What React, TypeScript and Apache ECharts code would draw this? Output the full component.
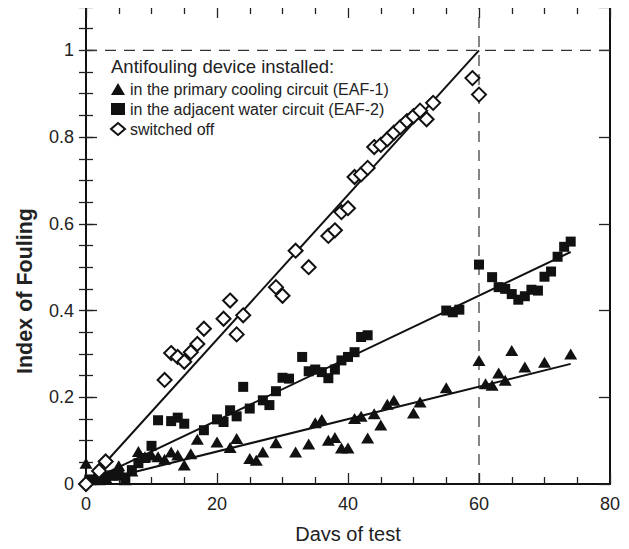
import React, { useEffect, useRef } from "react";
import * as echarts from "echarts";

// EAF-1: antifouling device in the primary cooling circuit (triangles)
const eaf1: [number, number][] = [
  [0, 0.048], [2, 0.01], [3, 0.015], [4, 0.02], [5, 0.042], [6, 0.01], [7, 0.03],
  [8, 0.075], [9, 0.063], [10, 0.067], [11, 0.063], [12, 0.057], [13, 0.074],
  [14, 0.067], [15, 0.044], [16, 0.07], [17, 0.103], [20, 0.097], [22, 0.084],
  [23, 0.105], [25, 0.059], [26, 0.055], [27, 0.074], [29, 0.095], [32, 0.074],
  [34, 0.092], [35, 0.141], [36, 0.149], [37, 0.101], [38, 0.107], [39, 0.083],
  [40, 0.083], [41, 0.151], [42, 0.156], [43, 0.106], [44, 0.162], [45, 0.136],
  [46, 0.184], [47, 0.193], [50, 0.164], [51, 0.189], [55, 0.222], [60, 0.285],
  [61, 0.231], [62, 0.228], [63, 0.256], [64, 0.239], [65, 0.308], [67, 0.27],
  [70, 0.281], [74, 0.3],
];

// EAF-2: antifouling device in the adjacent water circuit (squares)
const eaf2: [number, number][] = [
  [0.5, 0.01], [1, 0.01], [2, 0.01], [3, 0.015], [4, 0.02], [5, 0.02], [6, 0.015],
  [7, 0.032], [8, 0.048], [9, 0.06], [10, 0.088], [11, 0.147], [13, 0.145],
  [14, 0.153], [15, 0.139], [18, 0.124], [20, 0.149], [21, 0.143], [22, 0.17],
  [23, 0.156], [24, 0.224], [25, 0.174], [27, 0.193], [28, 0.182], [29, 0.214],
  [30, 0.245], [31, 0.243], [33, 0.293], [34, 0.26], [35, 0.264], [36, 0.258],
  [37, 0.244], [38, 0.264], [39, 0.285], [40, 0.293], [41, 0.304], [42, 0.339],
  [43, 0.343], [55, 0.4], [56, 0.396], [57, 0.402], [60, 0.506], [62, 0.477],
  [63, 0.454], [64, 0.45], [65, 0.438], [66, 0.425], [67, 0.433], [68, 0.448],
  [69, 0.446], [70, 0.478], [71, 0.49], [72, 0.524], [73, 0.547], [74, 0.559],
];

// Device switched off (open diamonds)
const switchedOff: [number, number][] = [
  [0, 0], [2, 0.03], [3, 0.052], [12, 0.24], [13, 0.302], [14, 0.293], [15, 0.282],
  [16, 0.304], [17, 0.323], [18, 0.358], [21, 0.381], [22, 0.423], [23, 0.345],
  [24, 0.389], [29, 0.454], [30, 0.434], [32, 0.538], [34, 0.5], [37, 0.572],
  [38, 0.585], [39, 0.627], [40, 0.636], [41, 0.708], [42, 0.714], [43, 0.729],
  [44, 0.777], [45, 0.782], [46, 0.795], [47, 0.81], [48, 0.823], [49, 0.837],
  [50, 0.848], [51, 0.861], [52, 0.841], [53, 0.879], [59, 0.936], [60, 0.898],
];

// Linear trend lines (end points)
const fitEaf1: [number, number][] = [[0, 0], [74, 0.277]];
const fitEaf2: [number, number][] = [[0, 0.003], [74, 0.535]];
const fitOff: [number, number][] = [[0, 0], [60, 1]];

// Reference dashed lines
const refHorizontal: [number, number][] = [[0, 1], [80, 1]];
const refVertical: [number, number][] = [[60, 0], [60, 1.1]];

const seriesNames = [
  "in the primary cooling circuit (EAF-1)",
  "in the adjacent water circuit (EAF-2)",
  "switched off",
];
const legendTitle = "Antifouling device installed:";
const xTitle = "Days of test";
const yTitle = "Index of Fouling";

const FONT = "'Liberation Sans', Arial, Helvetica, sans-serif";
const INK = "#111";

export default function App() {
  const ref = useRef<HTMLDivElement>(null);

  useEffect(() => {
    if (!ref.current) return;
    const chart = echarts.init(ref.current, undefined, { renderer: "svg" });

    const tickStyle = { color: "#222", width: 1.3 };
    const axisCommon = {
      axisLine: { show: true, onZero: false, lineStyle: { color: INK, width: 2 } },
      splitLine: { show: false },
      axisTick: { show: true, inside: true, length: 11, lineStyle: tickStyle },
    };
    const xMinor = { minorTick: { show: true, splitNumber: 4, length: 7, lineStyle: tickStyle } };
    const yFineTicks = (position: string) => ({
      type: "value",
      position,
      min: 0,
      max: 1.1,
      interval: 0.05,
      axisLine: { show: false },
      splitLine: { show: false },
      axisLabel: { show: false },
      axisTick: { show: true, inside: true, length: 7, lineStyle: tickStyle },
    });

    const line = (data: [number, number][], dashed = false) => ({
      type: "line",
      data,
      symbol: "none",
      silent: true,
      z: 1,
      lineStyle: dashed
        ? { color: "#333", width: 1.2, type: [11, 8] }
        : { color: INK, width: 2 },
    });

    chart.setOption({
      animation: false,
      grid: { left: 86, right: 19, top: 7, bottom: 65, containLabel: false },
      textStyle: { fontFamily: FONT },
      xAxis: [
        {
          type: "value",
          min: 0,
          max: 80,
          interval: 20,
          ...axisCommon,
          ...xMinor,
          axisLabel: { color: "#222", fontSize: 18, margin: 11, fontFamily: FONT },
        },
        {
          type: "value",
          position: "top",
          min: 0,
          max: 80,
          interval: 20,
          ...axisCommon,
          ...xMinor,
          axisLabel: { show: false },
        },
      ],
      yAxis: [
        {
          type: "value",
          min: 0,
          max: 1.1,
          interval: 0.2,
          ...axisCommon,
          axisLabel: {
            color: "#222",
            fontSize: 18,
            margin: 12,
            fontFamily: FONT,
            showMaxLabel: false,
          },
        },
        {
          type: "value",
          position: "right",
          min: 0,
          max: 1.1,
          interval: 0.2,
          ...axisCommon,
          axisLabel: { show: false },
        },
        yFineTicks("left"),
        yFineTicks("right"),
      ],
      legend: {
        orient: "vertical",
        left: 105,
        top: 76,
        itemWidth: 14,
        itemHeight: 12,
        itemGap: 4,
        selectedMode: false,
        textStyle: { color: "#222", fontSize: 16, fontFamily: FONT },
        data: seriesNames,
      },
      graphic: [
        {
          type: "text",
          left: 111,
          top: 57,
          style: { text: legendTitle, fill: "#222", fontSize: 18.5, fontFamily: FONT },
        },
        {
          type: "text",
          x: 348,
          y: 534,
          style: {
            text: xTitle,
            fill: "#222",
            fontSize: 20,
            fontFamily: FONT,
            align: "center",
            verticalAlign: "middle",
          },
        },
        {
          type: "text",
          x: 25,
          y: 291,
          rotation: Math.PI / 2,
          style: {
            text: yTitle,
            fill: "#222",
            fontSize: 21.5,
            fontWeight: "bold",
            fontFamily: FONT,
            align: "center",
            verticalAlign: "middle",
          },
        },
      ],
      series: [
        line(refHorizontal, true),
        line(refVertical, true),
        line(fitEaf1),
        line(fitEaf2),
        line(fitOff),
        {
          name: seriesNames[0],
          type: "scatter",
          data: eaf1,
          symbol: "triangle",
          symbolSize: [13, 11],
          z: 3,
          itemStyle: { color: INK, opacity: 1 },
        },
        {
          name: seriesNames[1],
          type: "scatter",
          data: eaf2,
          symbol: "rect",
          symbolSize: 10,
          z: 3,
          itemStyle: { color: INK, opacity: 1 },
        },
        {
          name: seriesNames[2],
          type: "scatter",
          data: switchedOff,
          symbol: "diamond",
          symbolSize: 14,
          z: 4,
          itemStyle: { color: "#fff", borderColor: INK, borderWidth: 2, opacity: 1 },
        },
      ],
    });

    return () => chart.dispose();
  }, []);

  return <div ref={ref} style={{ width: 629, height: 549, margin: -8 }} />;
}
